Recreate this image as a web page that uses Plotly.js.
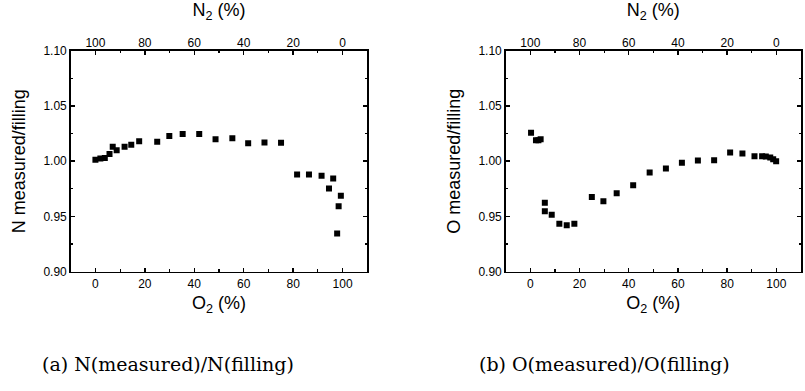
<!DOCTYPE html>
<html>
<head>
<meta charset="utf-8">
<script src="https://cdn.plot.ly/plotly-3.0.1.min.js"></script>
<style>html,body{margin:0;padding:0;background:#fff;}#chart{width:805px;height:391px;}</style>
</head>
<body>
<div id="chart"></div>
<script>
// Panel (a): N measured / filling vs O2 (%)
const o2_a = [0, 2, 3.8, 5.7, 7, 8.6, 11.8, 14.5, 17.7, 25, 29.9, 35.3, 42, 48.6, 55.4, 61.8, 68.4, 75.1, 81.6, 86.4, 91.5, 96.2, 94.5, 99.3, 98.4, 97.8];
const n_ratio = [1.0012, 1.0024, 1.003, 1.0066, 1.013, 1.0099, 1.013, 1.015, 1.018, 1.0177, 1.0228, 1.0246, 1.0246, 1.0198, 1.0207, 1.0162, 1.017, 1.0168, 0.988, 0.988, 0.9868, 0.9844, 0.9752, 0.9688, 0.9592, 0.9345];

// Panel (b): O measured / filling vs O2 (%)
const o2_b = [0.3, 2.3, 3.3, 4.2, 5.9, 5.9, 8.7, 11.8, 14.8, 17.9, 25, 29.7, 35.1, 41.8, 48.5, 55.1, 61.6, 68.1, 74.7, 81.2, 86.2, 91.1, 94.2, 95.7, 97.5, 98.7, 99.9];
const o_ratio = [1.0257, 1.019, 1.019, 1.0199, 0.9624, 0.9548, 0.9515, 0.9434, 0.9421, 0.9434, 0.9675, 0.9638, 0.971, 0.9783, 0.9898, 0.9934, 0.9985, 1.0006, 1.0009, 1.0079, 1.007, 1.0045, 1.0045, 1.0042, 1.0033, 1.0018, 1.0];

const axisTickVals = [0, 20, 40, 60, 80, 100];
const yTickVals = [0.90, 0.95, 1.00, 1.05, 1.10];
const yTickText = ['0.90', '0.95', '1.00', '1.05', '1.10'];
const captions = ['(a) N(measured)/N(filling)', '(b) O(measured)/O(filling)'];
const yTitles = ['N measured/filling', 'O measured/filling'];

const tickFont = {family: 'Liberation Sans, Arial, sans-serif', size: 12, color: '#000'};
const titleFont = {family: 'Liberation Sans, Arial, sans-serif', size: 18, color: '#000'};

const marker = {symbol: 'square', size: 6, color: '#000'};

const traces = [
  {x: o2_a, y: n_ratio, xaxis: 'x', yaxis: 'y', mode: 'markers', type: 'scatter', marker: marker, hoverinfo: 'x+y'},
  {x: o2_b, y: o_ratio, xaxis: 'x2', yaxis: 'y2', mode: 'markers', type: 'scatter', marker: marker, hoverinfo: 'x+y'},
  // invisible traces on N2 top axes (N2 = 100 - O2)
  {x: o2_a.map(v => 100 - v), y: n_ratio, xaxis: 'x3', yaxis: 'y', mode: 'markers', type: 'scatter', marker: {size: 1, opacity: 0}, hoverinfo: 'skip', showlegend: false},
  {x: o2_b.map(v => 100 - v), y: o_ratio, xaxis: 'x4', yaxis: 'y2', mode: 'markers', type: 'scatter', marker: {size: 1, opacity: 0}, hoverinfo: 'skip', showlegend: false}
];

function xBottom(domain, anchor) {
  return {
    domain: domain, anchor: anchor, range: [-10, 110],
    tickvals: axisTickVals, ticks: 'inside', ticklen: 4, tickwidth: 1.5, tickcolor: '#000',
    minor: {ticks: 'inside', dtick: 10, tick0: 0, ticklen: 2.5, tickwidth: 1.2, tickcolor: '#000'},
    showline: true, linecolor: '#000', linewidth: 1.5, mirror: true,
    showgrid: false, zeroline: false, tickfont: tickFont,
    title: {text: 'O<sub>2</sub> (%)', font: titleFont, standoff: 7}
  };
}
function xTop(overlay, anchor) {
  return {
    overlaying: overlay, anchor: anchor, side: 'top', range: [110, -10],
    tickvals: axisTickVals, ticks: 'inside', ticklen: 4, tickwidth: 1.5, tickcolor: '#000',
    minor: {ticks: 'inside', dtick: 10, tick0: 0, ticklen: 2.5, tickwidth: 1.2, tickcolor: '#000'},
    showline: false, showgrid: false, zeroline: false, tickfont: tickFont,
    title: {text: 'N<sub>2</sub> (%)', font: titleFont, standoff: 14}
  };
}
function yAxis(domain, anchor, title) {
  return {
    domain: domain, anchor: anchor, range: [0.90, 1.10],
    tickvals: yTickVals, ticktext: yTickText, ticks: 'inside', ticklen: 4, tickwidth: 1.5, tickcolor: '#000',
    minor: {ticks: 'inside', dtick: 0.025, tick0: 0.9, ticklen: 2.5, tickwidth: 1.2, tickcolor: '#000'},
    showline: true, linecolor: '#000', linewidth: 1.5, mirror: 'ticks',
    showgrid: false, zeroline: false, tickfont: tickFont,
    title: {text: title, font: titleFont, standoff: 13}
  };
}

const yDom = [1 - 271.7 / 391, 1 - 50.7 / 391];
const captionFont = {family: 'DejaVu Serif, Liberation Serif, serif', size: 19, color: '#000'};
const layout = {
  width: 805, height: 391,
  margin: {l: 0, r: 0, t: 0, b: 0},
  paper_bgcolor: '#fff', plot_bgcolor: '#fff',
  showlegend: false,
  xaxis: xBottom([70.7 / 805, 367.3 / 805], 'y'),
  xaxis2: xBottom([505.7 / 805, 801 / 805], 'y2'),
  xaxis3: xTop('x', 'y'),
  xaxis4: xTop('x2', 'y2'),
  yaxis: yAxis(yDom, 'x', yTitles[0]),
  yaxis2: yAxis(yDom, 'x2', yTitles[1]),
  annotations: [
    {text: captions[0], xref: 'paper', yref: 'paper', x: 168 / 805, y: 1 - 364 / 391, xanchor: 'center', yanchor: 'middle', showarrow: false, font: captionFont},
    {text: captions[1], xref: 'paper', yref: 'paper', x: 604 / 805, y: 1 - 364 / 391, xanchor: 'center', yanchor: 'middle', showarrow: false, font: captionFont}
  ]
};

Plotly.newPlot('chart', traces, layout, {staticPlot: true, displayModeBar: false});
</script>
</body>
</html>
